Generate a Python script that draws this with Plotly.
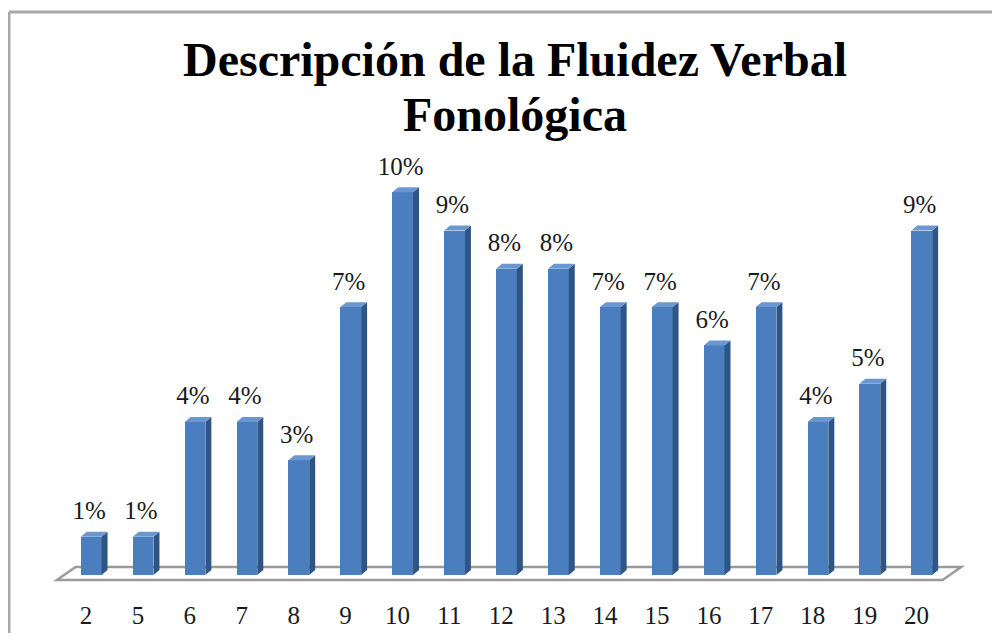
import plotly.graph_objects as go

categories = ['2', '5', '6', '7', '8', '9', '10', '11', '12', '13', '14', '15', '16', '17', '18', '19', '20']
values = [1, 1, 4, 4, 3, 7, 10, 9, 8, 8, 7, 7, 6, 7, 4, 5, 9]
labels = [f'{v}%' for v in values]

# the page body keeps an 8px margin, so the figure is 16px smaller than the window
PAD = 8
W, H = 1000 - 2 * PAD, 641 - 2 * PAD
ML, MR, MT, MB = 40 - PAD, 10 - PAD, 154 - PAD, 43 - PAD
XR = [-0.886, 17.414]
YR = [-0.6, 11.0]

FRONT = '#4A7EBE'
SIDE = '#2F5585'
TOP = '#6A97CF'
FONT = 'Liberation Serif, Times New Roman, serif'

# bar geometry in axis units
off, half = 0.1, 0.2
dx, dy = 0.115, 0.13

n = len(values)
xs = [i + off for i in range(n)]


def px_to_paper(px, py):
    # px, py are window pixels
    px, py = px - PAD, py - PAD
    return ((px - ML) / (W - ML - MR), (H - MB - py) / (H - MT - MB))


side_x, side_y, top_x, top_y = [], [], [], []
for c, v in zip(xs, values):
    side_x += [c + half, c + half + dx, c + half + dx, c + half, c + half, None]
    side_y += [0, dy, v + dy, v, 0, None]
    top_x += [c - half, c + half, c + half + dx, c - half + dx, c - half, None]
    top_y += [v, v, v + dy, v + dy, v, None]

fig = go.Figure()
fig.add_trace(go.Bar(x=xs, y=values, width=2 * half, marker=dict(color=FRONT, line=dict(width=0)),
                     showlegend=False, hoverinfo='skip'))
fig.add_trace(go.Scatter(x=side_x, y=side_y, fill='toself', fillcolor=SIDE, mode='lines',
                         line=dict(width=0, color=SIDE), showlegend=False, hoverinfo='skip'))
fig.add_trace(go.Scatter(x=top_x, y=top_y, fill='toself', fillcolor=TOP, mode='lines',
                         line=dict(width=0, color=TOP), showlegend=False, hoverinfo='skip'))
fig.add_trace(go.Scatter(x=[x - 0.04 for x in xs], y=[v + 0.62 for v in values], text=labels, mode='text',
                         textposition='middle center', cliponaxis=False,
                         textfont=dict(family=FONT, size=25, color='#1a1a1a'),
                         showlegend=False, hoverinfo='skip'))

# floor of the 3d chart
fl, fr = -0.56, n - 0.5
f0, f1 = -0.13, 0.21
sh = 0.36
floor_path = f'M {fl},{f0} L {fr},{f0} L {fr + sh},{f1} L {fl + sh},{f1} Z'
fig.add_shape(type='path', path=floor_path, xref='x', yref='y', layer='below',
              line=dict(color='#9a9a9a', width=2.5), fillcolor='white')

# outer chart border (top and left edges visible)
x0, y0 = px_to_paper(9, 12)
x1, y1 = px_to_paper(1010, 660)
fig.add_shape(type='line', xref='paper', yref='paper', x0=x0, y0=y0, x1=x1, y1=y0,
              line=dict(color='#a8a8a8', width=3))
fig.add_shape(type='line', xref='paper', yref='paper', x0=x0, y0=y0, x1=x0, y1=y1,
              line=dict(color='#a8a8a8', width=3))

tx, ty1 = px_to_paper(515, 60)
_, ty2 = px_to_paper(515, 115)
fig.add_annotation(text='<b>Descripción de la Fluidez Verbal</b>', x=tx, y=ty1, xref='paper', yref='paper',
                   xanchor='center', yanchor='middle', showarrow=False,
                   font=dict(family=FONT, size=48, color='black'))
fig.add_annotation(text='<b>Fonológica</b>', x=tx, y=ty2, xref='paper', yref='paper',
                   xanchor='center', yanchor='middle', showarrow=False,
                   font=dict(family=FONT, size=48, color='black'))

fig.update_layout(
    width=W, height=H,
    margin=dict(l=ML, r=MR, t=MT, b=MB, pad=0),
    plot_bgcolor='white',
    paper_bgcolor='white',
    bargap=0,
    xaxis=dict(range=XR, tickmode='array', tickvals=list(range(n)), ticktext=categories,
               showgrid=False, zeroline=False, showline=False, ticks='',
               tickfont=dict(family=FONT, size=25, color='#1a1a1a'), fixedrange=True),
    yaxis=dict(range=YR, showgrid=False, zeroline=False, showline=False, showticklabels=False,
               fixedrange=True),
)

fig.write_html('out.html')
